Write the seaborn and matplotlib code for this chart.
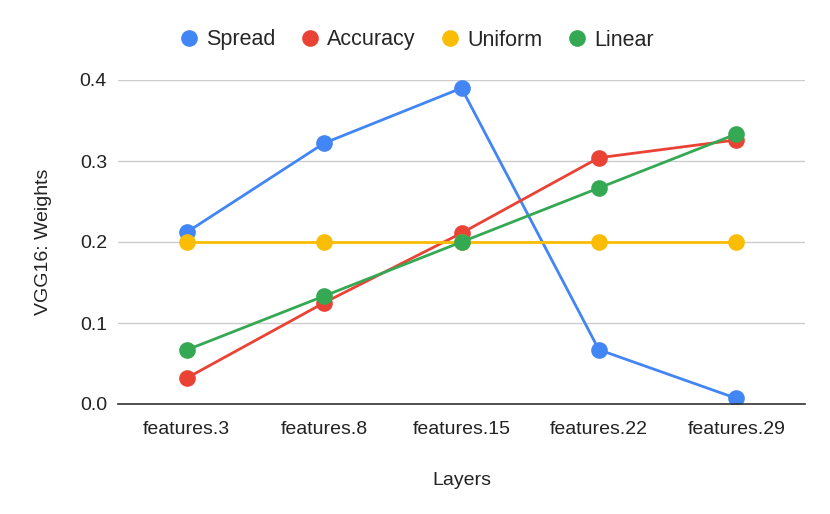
import pandas as pd
import numpy as np
import matplotlib
matplotlib.use("Agg")
import matplotlib.pyplot as plt
import seaborn as sns
from matplotlib.lines import Line2D

layers = ["features.3", "features.8", "features.15", "features.22", "features.29"]
spread = [0.212, 0.322, 0.390, 0.067, 0.007]
accuracy = [0.032, 0.125, 0.211, 0.304, 0.326]
uniform = [0.2, 0.2, 0.2, 0.2, 0.2]
linear = [0.0667, 0.1333, 0.2, 0.2667, 0.3333]

series = ["Spread", "Accuracy", "Uniform", "Linear"]
colores = ["#4285F4", "#EA4335", "#FBBC04", "#34A853"]

df = pd.DataFrame({"Layer": layers * 4,
                   "Weight": spread + accuracy + uniform + linear,
                   "Serie": np.repeat(series, len(layers))})

sns.set_style("white")
plt.rcParams["font.family"] = ["Liberation Sans", "DejaVu Sans"]

fig = plt.figure(figsize=(8.3, 5.14), dpi=100)
ax = fig.add_axes([118 / 830, 1 - 404 / 514, 687 / 830, 324 / 514])

sns.lineplot(data=df, x="Layer", y="Weight", hue="Serie", hue_order=series,
             palette=colores, marker="o", markersize=12, markeredgewidth=0,
             linewidth=2, sort=False, ax=ax, legend=False)

ax.set_xlim(-0.5, 4.5)
ax.set_ylim(0, 0.4)
ax.set_yticks([0, 0.1, 0.2, 0.3, 0.4])
ax.set_yticklabels(["0.0", "0.1", "0.2", "0.3", "0.4"])
ax.yaxis.grid(True, color="#cccccc", linewidth=1)
ax.set_axisbelow(True)
for s in ["top", "right", "left"]:
    ax.spines[s].set_visible(False)
ax.spines["bottom"].set_color("#333333")
ax.spines["bottom"].set_linewidth(1.2)
ax.tick_params(axis="both", length=0, labelsize=14, colors="#222222")
ax.tick_params(axis="x", pad=12)
ax.tick_params(axis="y", pad=8)
ax.set_xlabel("Layers", fontsize=14, color="#222222", labelpad=25)
ax.set_ylabel("VGG16: Weights", fontsize=14, color="#222222", labelpad=20)

handles = [Line2D([], [], linestyle="none", marker="o", markersize=12,
                  markerfacecolor=c, markeredgewidth=0) for c in colores]
fig.legend(handles, series, loc="center", bbox_to_anchor=(415 / 830, 1 - 40 / 514),
           ncol=4, frameon=False, fontsize=15.5, handletextpad=0.2,
           columnspacing=1.0, handlelength=1.2)

fig.savefig("out.png", dpi=100)
